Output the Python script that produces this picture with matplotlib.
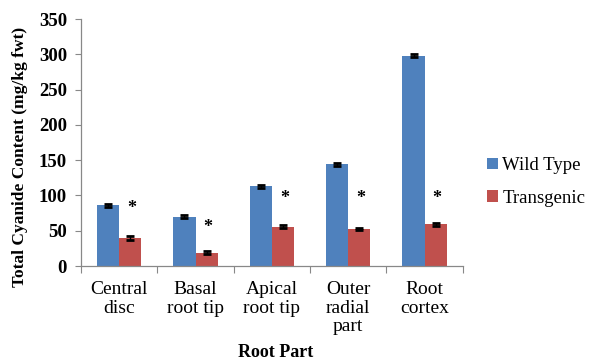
import matplotlib
matplotlib.use("Agg")
import matplotlib.pyplot as plt
import numpy as np

categories = ["Central\ndisc", "Basal\nroot tip", "Apical\nroot tip", "Outer\nradial\npart", "Root\ncortex"]
wild_type = [86, 70, 113, 144, 298]
transgenic = [40, 19, 56, 53, 59]
wild_err = [2, 2, 2, 2, 2]
trans_err = [3, 2, 2, 1.5, 2]
star_heights = [81, 55, 96, 96, 96]
yticks = [0, 50, 100, 150, 200, 250, 300, 350]

blue = "#4F81BD"
red = "#C0504D"
serif = ["Liberation Serif", "DejaVu Serif"]

fig = plt.figure(figsize=(5.91, 3.6), dpi=100)
ax = fig.add_axes([0.137, 0.261, 0.646, 0.686])

x = np.arange(len(categories))
w = 0.29
err_kw = dict(ecolor="black", elinewidth=1.0, capsize=3.2, capthick=2.0)
ax.bar(x - w / 2, wild_type, w, color=blue, yerr=wild_err, error_kw=err_kw, label="Wild Type")
ax.bar(x + w / 2, transgenic, w, color=red, yerr=trans_err, error_kw=err_kw, label="Transgenic")

for xi, h in zip(x, star_heights):
    ax.text(xi + w / 2 + 0.02, h, "*", ha="center", va="center", fontsize=13,
            fontweight="bold", family=serif)

ax.set_xlim(-0.5, len(categories) - 0.5)
ax.set_ylim(0, 350)
ax.set_yticks(yticks)
ax.set_yticklabels([str(t) for t in yticks], family=serif, fontweight="bold", fontsize=13.5)

ax.set_xticks(np.arange(len(categories) + 1) - 0.5)
ax.set_xticklabels([])
ax.set_xticks(x, minor=True)
ax.set_xticklabels(categories, minor=True, family=serif, fontsize=14, linespacing=1.12, va="top")
ax.tick_params(axis="x", which="minor", length=0, pad=11)
ax.tick_params(axis="x", which="major", length=5, color="#888888")
ax.tick_params(axis="y", length=4, color="#888888", pad=6)

for side in ("top", "right"):
    ax.spines[side].set_visible(False)
for side in ("left", "bottom"):
    ax.spines[side].set_color("#888888")
    ax.spines[side].set_linewidth(0.9)

ax.set_ylabel("Total Cyanide Content (mg/kg fwt)", family=serif, fontweight="bold", fontsize=12.5)
ax.yaxis.set_label_coords(-0.14, 0.44)
fig.text(0.466, 0.02, "Root Part", ha="center", va="center", family=serif, fontweight="bold", fontsize=13)

ax.legend(loc="center left", bbox_to_anchor=(1.018, 0.34), frameon=False,
          prop={"family": serif, "size": 13.5}, handlelength=0.6, handleheight=0.6,
          handletextpad=0.25, labelspacing=0.85)

fig.savefig("out.png", dpi=100)
